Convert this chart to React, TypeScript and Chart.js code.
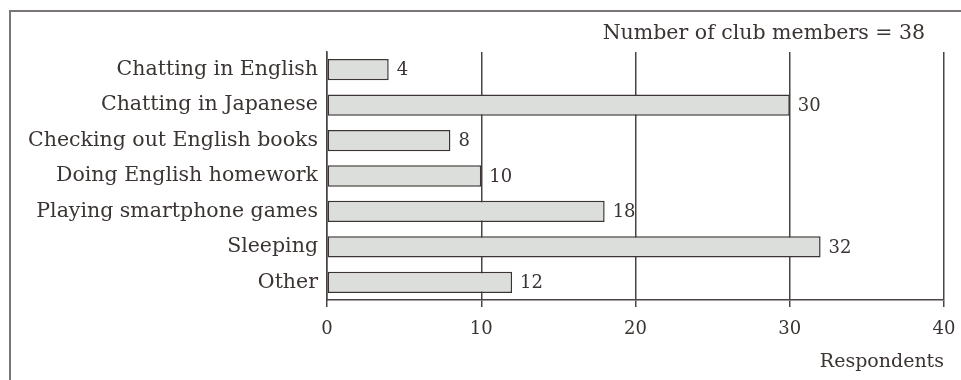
import React, { useEffect, useRef } from "react";
import { Chart, registerables } from "chart.js";

Chart.register(...registerables);

const categories = [
  "Chatting in English",
  "Chatting in Japanese",
  "Checking out English books",
  "Doing English homework",
  "Playing smartphone games",
  "Sleeping",
  "Other",
];
const respondents = [4, 30, 8, 10, 18, 32, 12];
const xTicks = [0, 10, 20, 30, 40];
const titleText = "Number of club members = 38";
const xTitle = "Respondents";

const FONT = "'DejaVu Serif', serif";
const TEXT = "#3a3432";
const LINE = "#4a4444";

export default function App() {
  const ref = useRef<HTMLCanvasElement | null>(null);

  useEffect(() => {
    if (!ref.current) return;
    const extras = {
      id: "extras",
      beforeDraw(chart: any) {
        const ctx = chart.ctx;
        ctx.save();
        ctx.strokeStyle = "#7a7676";
        ctx.lineWidth = 2;
        ctx.beginPath();
        ctx.moveTo(10, 400);
        ctx.lineTo(10, 11);
        ctx.lineTo(970, 11);
        ctx.stroke();
        ctx.restore();
      },
      afterDraw(chart: any) {
        const ctx = chart.ctx;
        const area = chart.chartArea;
        ctx.save();
        ctx.fillStyle = TEXT;
        ctx.textBaseline = "middle";
        ctx.textAlign = "right";
        ctx.font = `20.5px ${FONT}`;
        ctx.fillText(titleText, area.right - 19, area.top - 18);
        ctx.font = `19px ${FONT}`;
        ctx.fillText(xTitle, area.right, area.bottom + 62);
        const meta = chart.getDatasetMeta(0);
        ctx.font = `18px ${FONT}`;
        ctx.textAlign = "left";
        meta.data.forEach((bar: any, i: number) => {
          ctx.fillText(String(respondents[i]), bar.x + 8, bar.y + 1);
        });
        ctx.restore();
      },
    };
    const chart = new Chart(ref.current, {
      type: "bar",
      data: {
        labels: categories,
        datasets: [
          {
            data: respondents,
            backgroundColor: "#dcdedc",
            borderColor: "#3a3432",
            borderWidth: 1.5,
            borderSkipped: false,
            barPercentage: 0.6,
            categoryPercentage: 1,
          },
        ],
      },
      options: {
        indexAxis: "y",
        responsive: false,
        animation: false,
        layout: { padding: { left: 0, right: 17, top: 52, bottom: 0 } },
        plugins: {
          legend: { display: false },
          tooltip: { enabled: false },
          title: { display: false },
        },
        scales: {
          x: {
            min: 0,
            max: 40,
            afterBuildTicks(scale: any) {
              scale.ticks = xTicks.map((v) => ({ value: v }));
            },
            afterFit(scale: any) {
              scale.height = 80;
              scale.paddingLeft = 0;
              scale.paddingRight = 0;
            },
            grid: {
              color: LINE,
              lineWidth: 1.5,
              tickLength: 7,
              drawTicks: true,
            },
            border: { display: true, color: LINE, width: 1.5 },
            ticks: {
              color: TEXT,
              font: { family: FONT, size: 18 },
              padding: 12,
              maxRotation: 0,
            },
          },
          y: {
            afterFit(scale: any) {
              scale.width = 327;
              scale.paddingTop = 0;
              scale.paddingBottom = 0;
            },
            grid: { display: false },
            border: { display: true, color: LINE, width: 1.5 },
            ticks: {
              color: TEXT,
              font: { family: FONT, size: 20.5 },
              padding: 1,
            },
          },
        },
      },
      plugins: [extras],
    } as any);
    return () => chart.destroy();
  }, []);

  return (
    <div style={{ position: "fixed", left: 0, top: 0, width: 961, height: 380, background: "#fff" }}>
      <canvas ref={ref} width={961} height={380} style={{ display: "block" }} />
    </div>
  );
}
